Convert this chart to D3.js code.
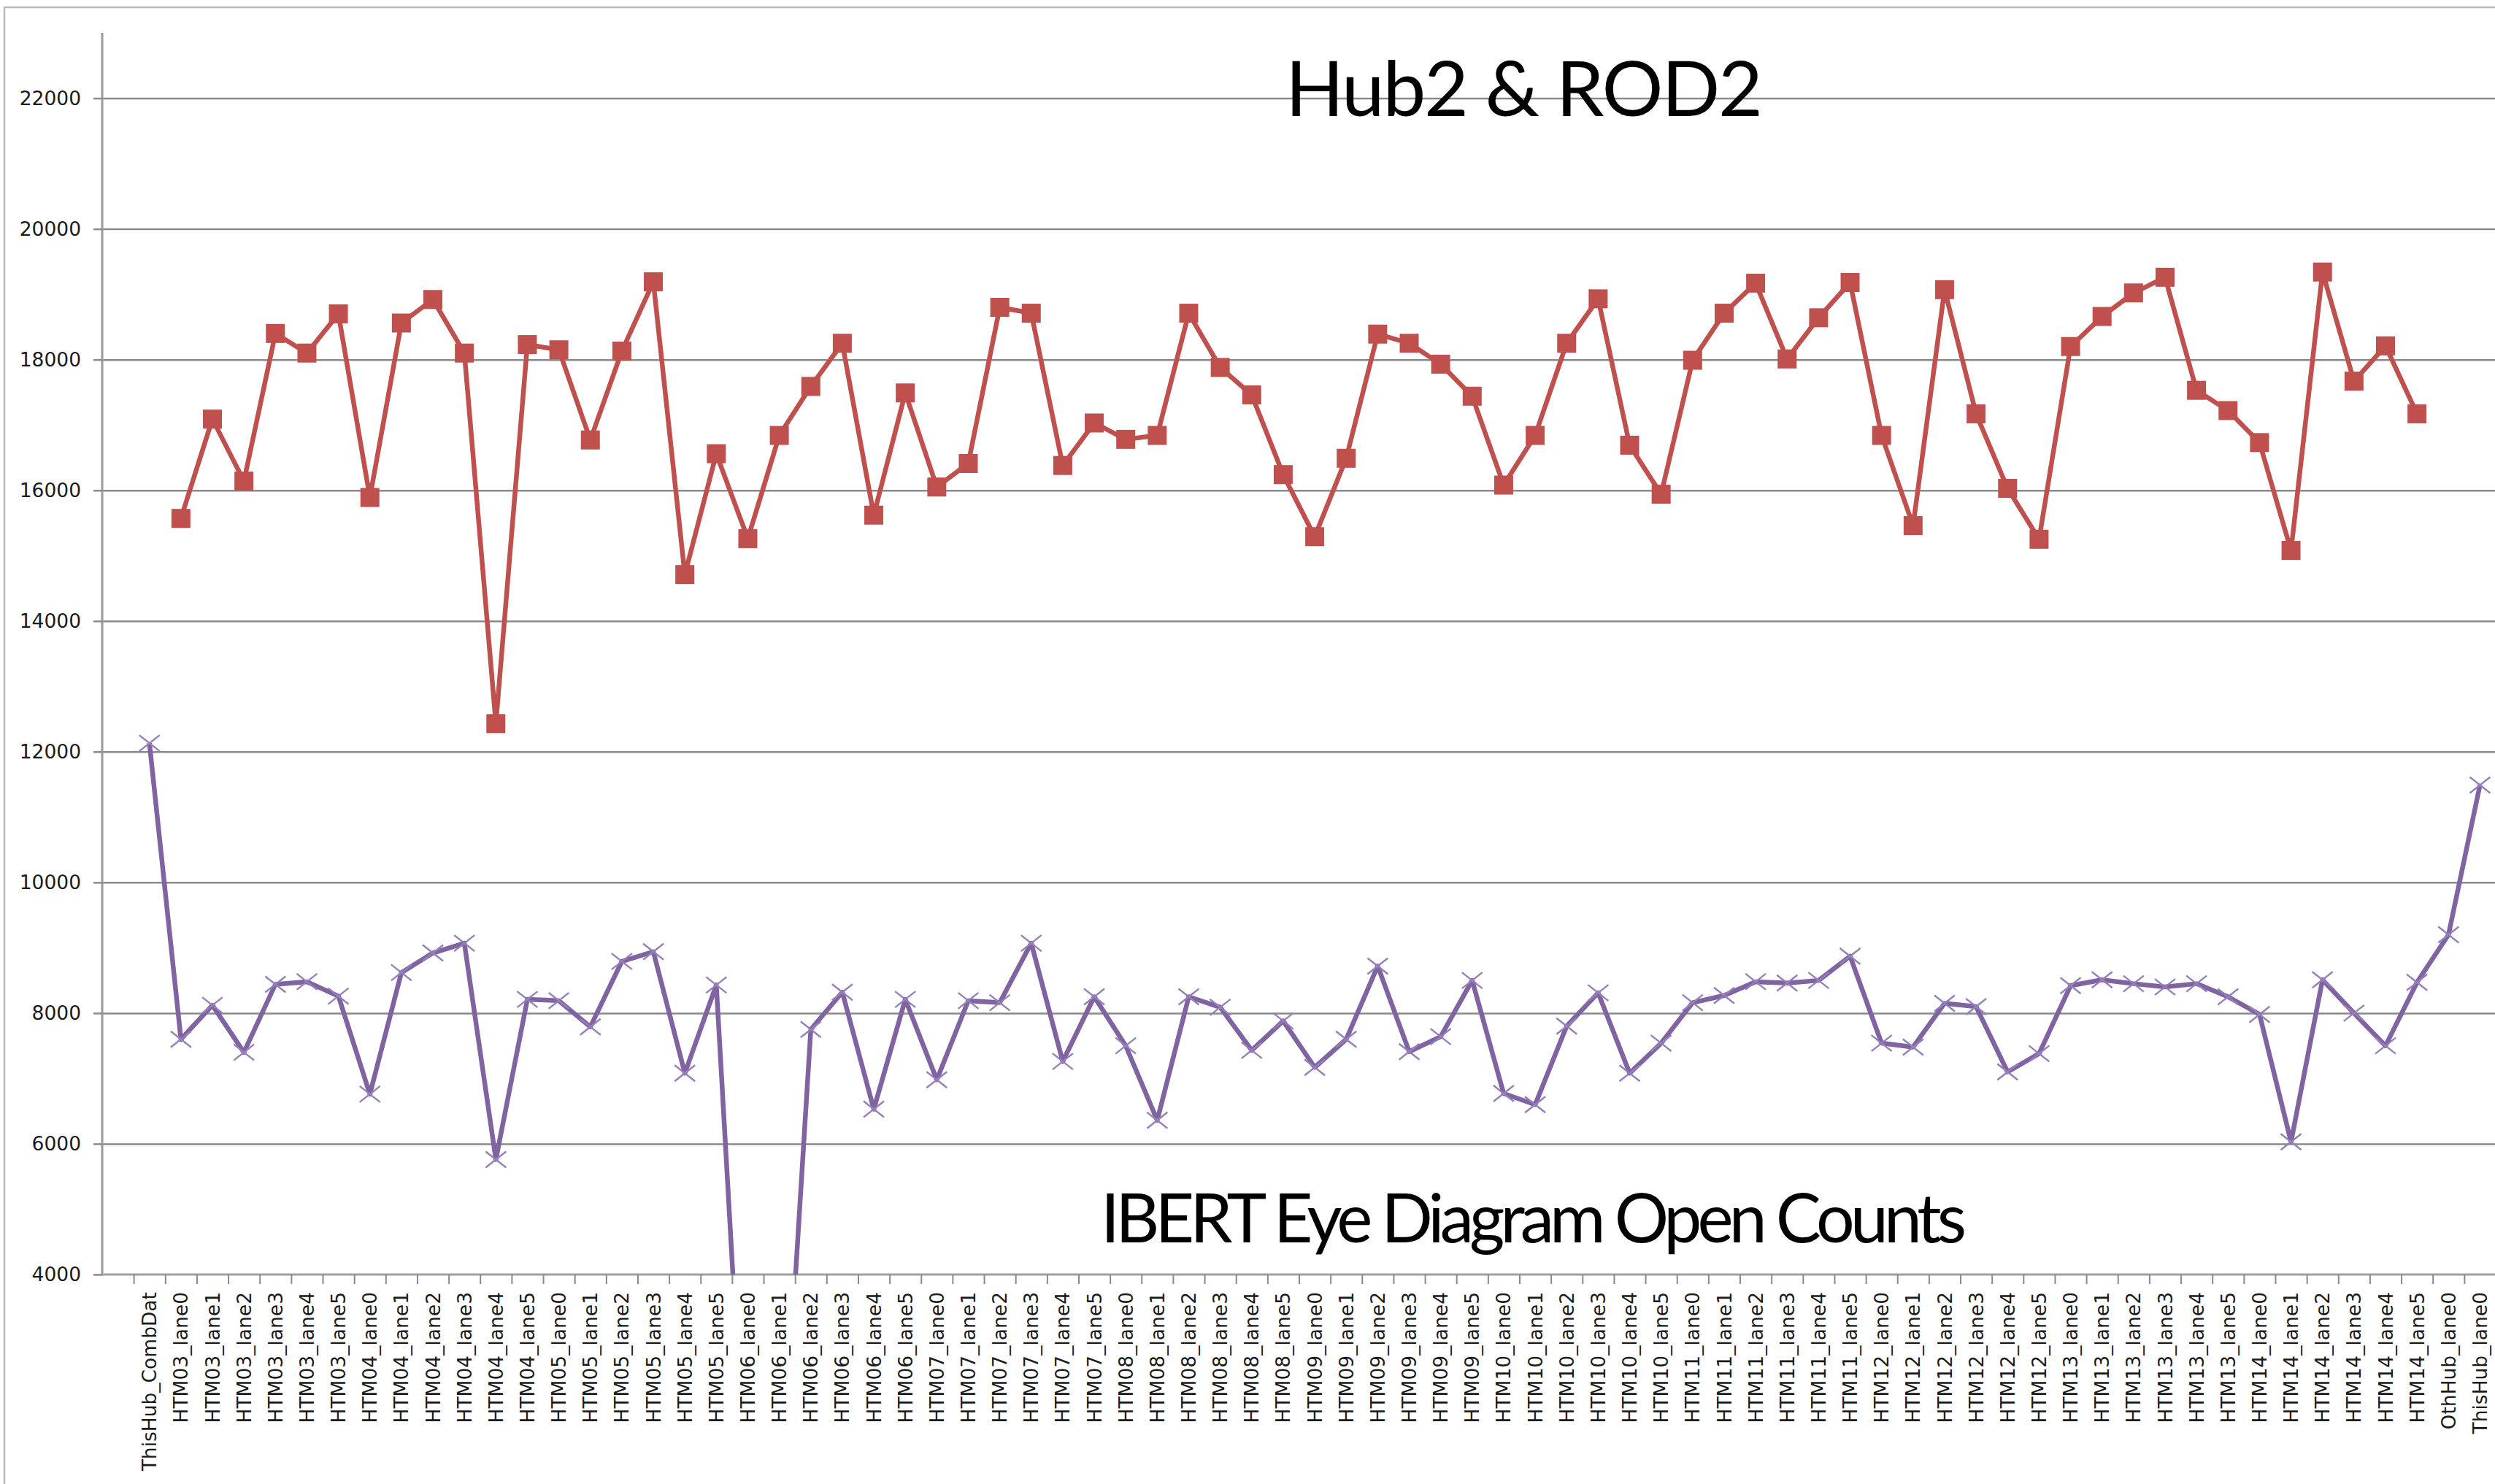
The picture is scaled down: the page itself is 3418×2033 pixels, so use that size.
<!DOCTYPE html>
<html lang="en">
<head>
  <meta charset="UTF-8">
  <title>Hub2 &amp; ROD2</title>
  <style>
    html, body { margin: 0; padding: 0; background: #fff; }
    svg { display: block; }
  </style>
</head>
<body>
<div id="chart-container"></div>
<script src="https://d3js.org/d3.v7.min.js"></script>
<script>

// categories, first slot is empty (Excel left a blank category there)
const categories = ["",
  "ThisHub_CombDat",
  "HTM03_lane0", "HTM03_lane1", "HTM03_lane2", "HTM03_lane3", "HTM03_lane4", "HTM03_lane5",
  "HTM04_lane0", "HTM04_lane1", "HTM04_lane2", "HTM04_lane3", "HTM04_lane4", "HTM04_lane5",
  "HTM05_lane0", "HTM05_lane1", "HTM05_lane2", "HTM05_lane3", "HTM05_lane4", "HTM05_lane5",
  "HTM06_lane0", "HTM06_lane1", "HTM06_lane2", "HTM06_lane3", "HTM06_lane4", "HTM06_lane5",
  "HTM07_lane0", "HTM07_lane1", "HTM07_lane2", "HTM07_lane3", "HTM07_lane4", "HTM07_lane5",
  "HTM08_lane0", "HTM08_lane1", "HTM08_lane2", "HTM08_lane3", "HTM08_lane4", "HTM08_lane5",
  "HTM09_lane0", "HTM09_lane1", "HTM09_lane2", "HTM09_lane3", "HTM09_lane4", "HTM09_lane5",
  "HTM10_lane0", "HTM10_lane1", "HTM10_lane2", "HTM10_lane3", "HTM10_lane4", "HTM10_lane5",
  "HTM11_lane0", "HTM11_lane1", "HTM11_lane2", "HTM11_lane3", "HTM11_lane4", "HTM11_lane5",
  "HTM12_lane0", "HTM12_lane1", "HTM12_lane2", "HTM12_lane3", "HTM12_lane4", "HTM12_lane5",
  "HTM13_lane0", "HTM13_lane1", "HTM13_lane2", "HTM13_lane3", "HTM13_lane4", "HTM13_lane5",
  "HTM14_lane0", "HTM14_lane1", "HTM14_lane2", "HTM14_lane3", "HTM14_lane4", "HTM14_lane5",
  "OthHub_lane0", "ThisHub_lane0"];

// red series (square markers), one value per category, null = no point
const rod2Counts = [null,
  null,
  15570, 17090, 16140, 18400, 18100, 18700,
  15890, 18560, 18920, 18100, 12430, 18230,
  18150, 16770, 18130, 19190, 14710, 16560,
  15260, 16840, 17590, 18250, 15620, 17490,
  16050, 16410, 18800, 18710, 16380, 17030,
  16780, 16840, 18710, 17880, 17460, 16240,
  15290, 16490, 18390, 18250, 17930, 17440,
  16080, 16840, 18250, 18930, 16690, 15940,
  17990, 18710, 19170, 18010, 18640, 19180,
  16840, 15460, 19070, 17170, 16030, 15250,
  18200, 18660, 19020, 19260, 17530, 17220,
  16730, 15080, 19340, 17670, 18210, 17170,
  null, null];

// purple series (x markers)
const hub2Counts = [null,
  12130,
  7600, 8120, 7400, 8440, 8480, 8260,
  6760, 8620, 8920, 9070, 5760, 8210,
  8190, 7790, 8790, 8940, 7080, 8430,
  0, 0, 7750, 8320, 6530, 8210,
  6980, 8190, 8160, 9070, 7260, 8250,
  7500, 6360, 8250, 8090, 7430, 7880,
  7170, 7600, 8720, 7410, 7640, 8500,
  6770, 6600, 7800, 8310, 7080, 7540,
  8160, 8270, 8480, 8460, 8500, 8870,
  7540, 7480, 8150, 8100, 7100, 7380,
  8420, 8510, 8450, 8400, 8450, 8250,
  7980, 6030, 8510, 8000, 7500, 8470,
  9200, 11490];

const yTicks = [4000, 6000, 8000, 10000, 12000, 14000, 16000, 18000, 20000, 22000];

const chartTitle = "Hub2 & ROD2";
const noteText = "IBERT Eye Diagram Open Counts";

// canvas + plot box
const W = 3418, H = 2033;
const plot = { left: 140, top: 45, right: 3419, bottom: 1746 };

const svg = d3.select("#chart-container")
  .append("svg")
  .attr("width", W)
  .attr("height", H);

svg.append("rect")
  .attr("width", W).attr("height", H)
  .style("fill", "#fff");

// outer chart frame (right / bottom run off the picture)
svg.append("rect")
  .attr("x", 6).attr("y", 10)
  .attr("width", W + 40).attr("height", H + 40)
  .style("fill", "none")
  .style("stroke", "#b8b8b8")
  .style("stroke-width", 2.5);

const x = d3.scaleBand()
  .domain(categories)
  .range([plot.left, plot.right])
  .padding(0);
const cx = c => x(c) + x.bandwidth() / 2;

const y = d3.scaleLinear()
  .domain([4000, 23000])
  .range([plot.bottom, plot.top]);

// gridlines
svg.append("g")
  .attr("class", "grid")
  .attr("transform", `translate(${plot.left},0)`)
  .call(d3.axisLeft(y).tickValues(yTicks.slice(1)).tickSize(-(plot.right - plot.left)).tickFormat(""))
  .call(g => g.select(".domain").remove())
  .selectAll("line")
  .style("stroke", "#8a8a8a")
  .style("stroke-width", 2.5);

// y axis
const yAxis = svg.append("g")
  .attr("transform", `translate(${plot.left},0)`)
  .call(d3.axisLeft(y).tickValues(yTicks).tickSize(12).tickPadding(17).tickFormat(d => d));
yAxis.select(".domain")
  .attr("d", `M0,${plot.top}V${plot.bottom}`)
  .style("stroke", "#9a9a9a")
  .style("stroke-width", 3);
yAxis.selectAll(".tick line")
  .style("stroke", "#8a8a8a")
  .style("stroke-width", 2.5);
yAxis.selectAll("text")
  .style("font-family", "'DejaVu Sans', sans-serif")
  .style("font-size", "26.5px")
  .style("fill", "#1a1a1a");

// x axis: tick marks on category boundaries
const xEdge = d3.scaleLinear()
  .domain([0, categories.length])
  .range([plot.left, plot.right]);

const xAxis = svg.append("g")
  .attr("transform", `translate(0,${plot.bottom})`)
  .call(d3.axisBottom(xEdge).tickValues(d3.range(1, categories.length)).tickSize(13).tickFormat(""));
xAxis.select(".domain")
  .attr("d", `M${plot.left},0H${plot.right}`)
  .style("stroke", "#a0a0a0")
  .style("stroke-width", 3);
xAxis.selectAll(".tick line")
  .style("stroke", "#8a8a8a")
  .style("stroke-width", 2);

// category labels, rotated
svg.append("g")
  .selectAll("text")
  .data(categories.filter(c => c !== ""))
  .enter().append("text")
  .attr("transform", d => `translate(${cx(d)},${plot.bottom + 24}) rotate(-90)`)
  .attr("dy", "0.36em")
  .style("text-anchor", "end")
  .style("font-family", "'DejaVu Sans', sans-serif")
  .style("font-size", "26.5px")
  .style("fill", "#1a1a1a")
  .text(d => d);

// clip so the drop to 0 stops at the axis
svg.append("clipPath").attr("id", "plotClip")
  .append("rect")
  .attr("x", plot.left).attr("y", plot.top - 20)
  .attr("width", plot.right - plot.left).attr("height", plot.bottom - plot.top + 20);

const plotG = svg.append("g").attr("clip-path", "url(#plotClip)");

const line = d3.line()
  .defined(d => d.v != null)
  .x(d => cx(d.c))
  .y(d => y(d.v));

const hubData = categories.map((c, i) => ({ c: c, v: hub2Counts[i] }));
const rodData = categories.map((c, i) => ({ c: c, v: rod2Counts[i] }));

// purple series
plotG.append("path")
  .datum(hubData)
  .attr("d", line)
  .style("fill", "none")
  .style("stroke", "#8064A2")
  .style("stroke-width", 6.5)
  .style("stroke-linejoin", "round");

plotG.selectAll(".xmark")
  .data(hubData.filter(d => d.v != null))
  .enter().append("path")
  .attr("class", "xmark")
  .attr("transform", d => `translate(${cx(d.c)},${y(d.v)})`)
  .attr("d", "M-14,-11L14,11M-14,11L14,-11")
  .style("stroke", "#9580bb")
  .style("stroke-width", 2.4)
  .style("fill", "none");

// red series
plotG.append("path")
  .datum(rodData)
  .attr("d", line)
  .style("fill", "none")
  .style("stroke", "#C0504D")
  .style("stroke-width", 6.5)
  .style("stroke-linejoin", "round");

plotG.selectAll(".sqmark")
  .data(rodData.filter(d => d.v != null))
  .enter().append("rect")
  .attr("class", "sqmark")
  .attr("x", d => cx(d.c) - 13)
  .attr("y", d => y(d.v) - 13)
  .attr("width", 26)
  .attr("height", 26)
  .style("fill", "#C0504D");

// titles
svg.append("text")
  .attr("x", 1761).attr("y", 159)
  .attr("textLength", 654)
  .style("font-family", "Lato, 'Open Sans', sans-serif")
  .style("font-size", "105px")
  .style("fill", "#000")
  .text(chartTitle);

svg.append("text")
  .attr("x", 1508).attr("y", 1702)
  .attr("textLength", 1186)
  .style("font-family", "Lato, 'Open Sans', sans-serif")
  .style("font-size", "93px")
  .style("fill", "#000")
  .text(noteText);

</script>
</body>
</html>
